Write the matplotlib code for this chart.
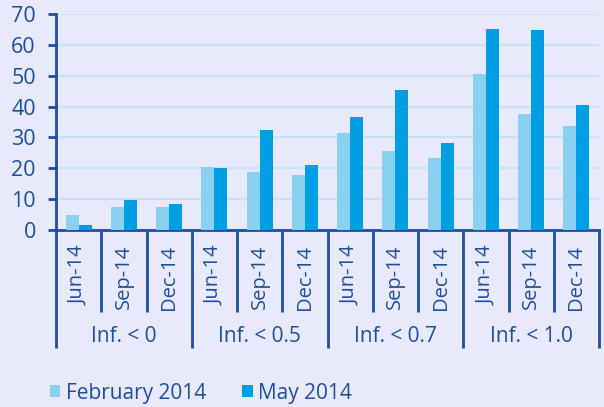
import matplotlib
matplotlib.use("Agg")
import matplotlib.pyplot as plt
import matplotlib.transforms as mtransforms
from matplotlib.patches import Patch
import numpy as np

groups = ["Inf. < 0", "Inf. < 0.5", "Inf. < 0.7", "Inf. < 1.0"]
months = ["Jun-14", "Sep-14", "Dec-14"]
series_names = ["February 2014", "May 2014"]
feb_2014 = [4.8, 7.3, 7.6, 20.5, 18.8, 17.7, 31.3, 25.6, 23.4, 50.5, 37.6, 33.7]
may_2014 = [1.7, 9.7, 8.5, 20.2, 32.5, 21.1, 36.5, 45.4, 28.2, 65.1, 64.9, 40.6]
yticks = [0, 10, 20, 30, 40, 50, 60, 70]

BG = "#e8eafb"
AX = "#1f4e9b"
LIGHT = "#89d0f1"
DARK = "#009fe3"
GRID = "#c6e4f8"

plt.rcParams['font.family'] = ['Open Sans', 'DejaVu Sans']

fig = plt.figure(figsize=(6.04, 4.07), dpi=100, facecolor=BG)
ax = fig.add_axes([56/604, 1-230/407, 543/604, 216/407], facecolor=BG)

n = len(feb_2014)
x = np.arange(n)
w = 0.29
ax.bar(x - w/2, feb_2014, width=w, color=LIGHT, zorder=3)
ax.bar(x + w/2, may_2014, width=w, color=DARK, zorder=3)

ax.set_xlim(-0.5, n - 0.5)
ax.set_ylim(0, 70)
ax.set_yticks(yticks)
ax.yaxis.grid(True, color=GRID, linewidth=1.5, zorder=0)
ax.set_axisbelow(True)
ax.tick_params(axis='y', colors=AX, labelsize=15.5, length=6, width=2, pad=8.5)
ax.tick_params(axis='x', bottom=False, labelbottom=False)
for s in ["top", "right"]:
    ax.spines[s].set_visible(False)
for s in ["left", "bottom"]:
    ax.spines[s].set_color(AX)
    ax.spines[s].set_linewidth(2)

trans = mtransforms.blended_transform_factory(ax.transData, ax.transAxes)
ah = 216.0
for i in range(n + 1):
    xb = i - 0.5
    if i % 3 == 0:
        y1 = -(348 - 230) / ah
    else:
        y1 = -(312 - 230) / ah
    ax.plot([xb, xb], [0, y1], color=AX, lw=2, transform=trans, clip_on=False,
            solid_capstyle='butt')

for i in range(n):
    ax.text(i, -(245 - 230) / ah, months[i % 3], rotation=90, ha='center', va='top',
            color=AX, fontsize=14.5, transform=trans)

for g, name in enumerate(groups):
    ax.text(g * 3 + 1, -(337 - 230) / ah, name, ha='center', va='center',
            color=AX, fontsize=15, transform=trans)

handles = [Patch(facecolor=LIGHT, edgecolor='none'), Patch(facecolor=DARK, edgecolor='none')]
leg = fig.legend(handles, series_names, loc='center left', bbox_to_anchor=(50/604, 1-393/407),
                 ncol=2, frameon=False, fontsize=15, handlelength=0.5, handleheight=0.5,
                 handletextpad=0.25, columnspacing=1.75, borderaxespad=0, borderpad=0)
for t in leg.get_texts():
    t.set_color(AX)

fig.savefig("out.png", dpi=100, facecolor=BG)
